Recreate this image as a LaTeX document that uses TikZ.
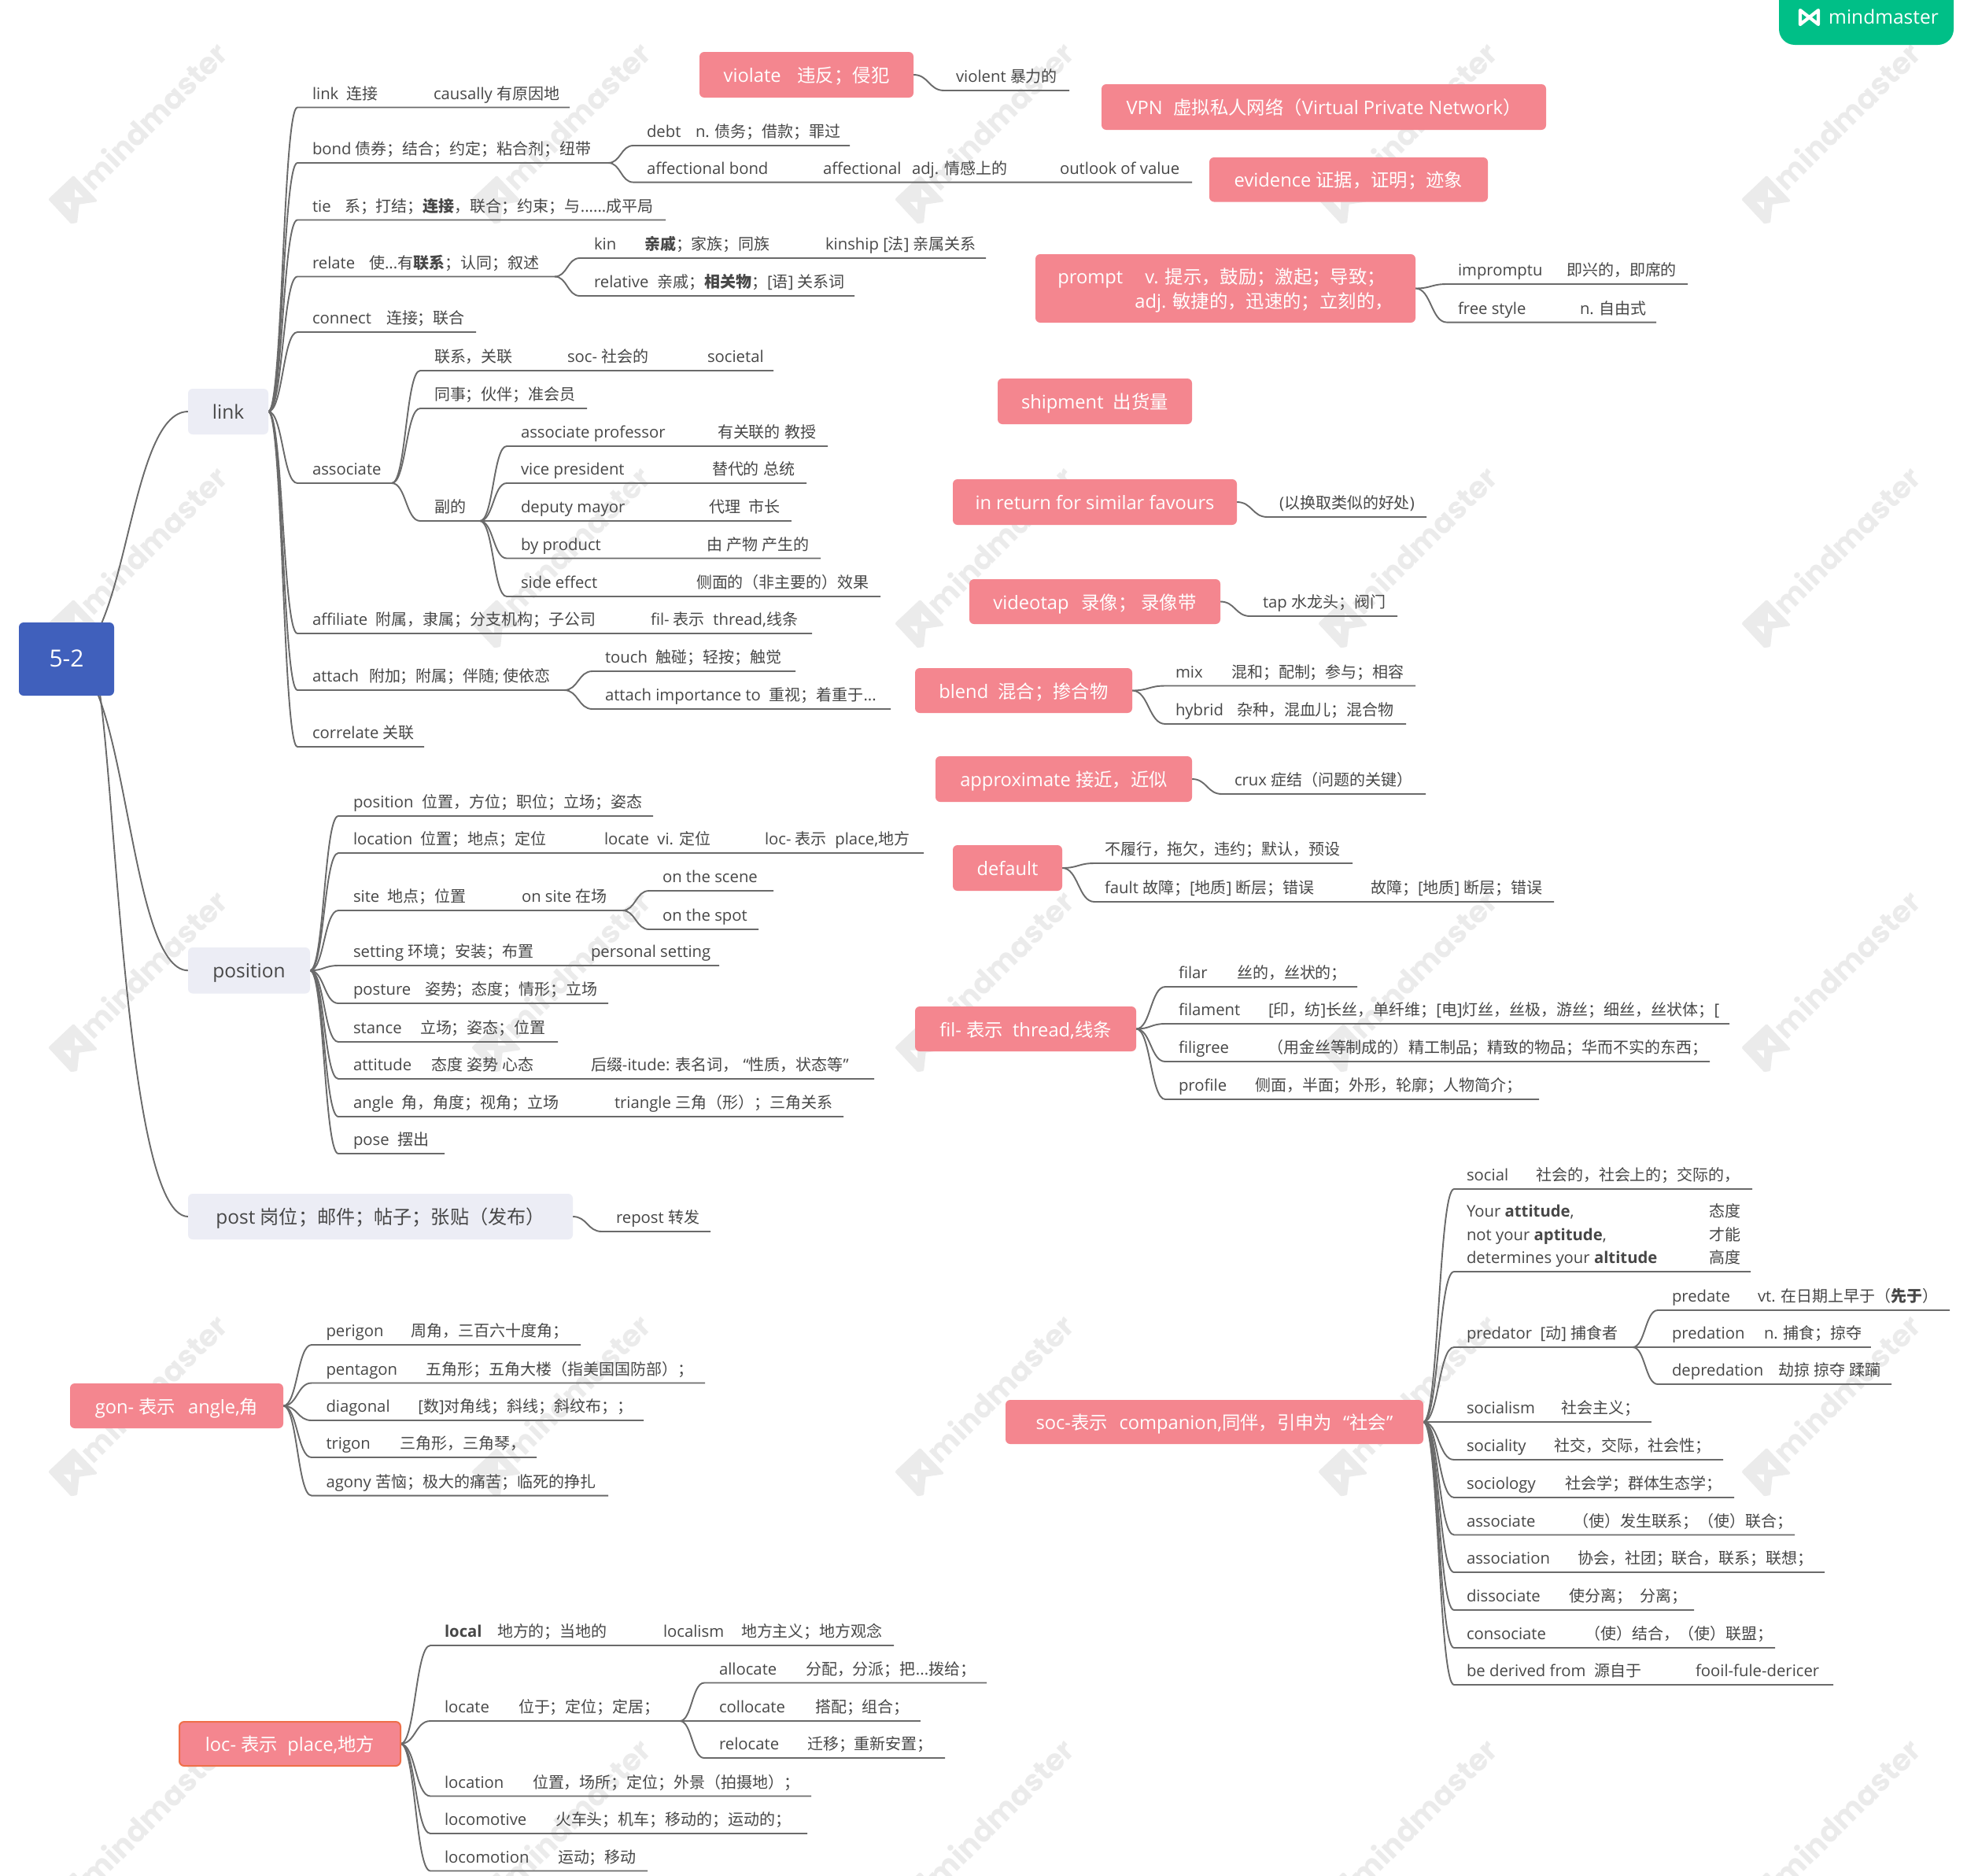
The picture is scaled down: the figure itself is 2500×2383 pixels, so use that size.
\documentclass[tikz,border=0pt]{standalone}
\usepackage{fontspec}
\usetikzlibrary{calc}
\setmainfont{Open Sans}
\newfontfamily\cjkfont[Scale=0.985]{Noto Sans CJK SC}
\newfontfamily\wmfont{Poppins}
% automatic switch to the CJK font
\chardef\cjkclass=7
\newcount\cjkc
\def\cjkrange#1#2{\cjkc=#1\relax\loop\XeTeXcharclass\cjkc=\cjkclass\relax\ifnum\cjkc<#2\relax\advance\cjkc by 1\relax\repeat}
\cjkrange{"3000}{"303F}
\cjkrange{"4E00}{"9FFF}
\cjkrange{"FF00}{"FFEF}
\XeTeXcharclass"2018=0 \XeTeXcharclass"2019=0 \XeTeXcharclass"201C=0 \XeTeXcharclass"201D=0
\XeTeXinterchartoks 0 \cjkclass={\begingroup\cjkfont}
\XeTeXinterchartoks 4095 \cjkclass={\begingroup\cjkfont}
\XeTeXinterchartoks \cjkclass 0={\endgroup}
\XeTeXinterchartoks \cjkclass 4095={\endgroup}
\XeTeXinterchartokenstate=1
\definecolor{pk}{HTML}{F4868F}
\definecolor{bl}{HTML}{4060BC}
\definecolor{lv}{HTML}{ECEDF5}
\definecolor{tx}{HTML}{474747}
\definecolor{ln}{HTML}{6A6A6A}
\definecolor{gr}{HTML}{00BF87}
\definecolor{wm}{HTML}{EBEBEB}
\pgfdeclarelayer{bgl}\pgfdeclarelayer{wml}\pgfdeclarelayer{conn}
\pgfsetlayers{bgl,wml,conn,main}
\tikzset{
  kidn/.style={anchor=south west,inner sep=0pt,outer sep=0pt,text=tx,font=\fontsize{20.3}{29.6}\selectfont},
  cn/.style={draw=ln,line width=1.9pt,line join=round},
  boxn/.style={inner sep=0pt,outer sep=0pt,rounded corners=6pt,align=left},
  pkbox/.style={boxn,fill=pk,text=white,font=\fontsize{23.7}{31}\selectfont},
  lvbox/.style={boxn,fill=lv,text=tx,font=\fontsize{24.5}{30}\selectfont},
  rootbox/.style={boxn,fill=bl,text=white,font=\fontsize{30}{36}\selectfont},
}
\newcommand\tb[2]{\makebox[#1pt][l]{#2}}
% \kid{name}{parent}{curve end x}{text x}{line y}{line end x}{text}
\newcommand\kid[7]{%
  \node[kidn] (#1) at (#3,#5) {\makebox[\dimexpr #6pt-#3pt\relax][l]{\hspace*{\dimexpr #4pt-#3pt\relax}\rule[-10.1pt]{0pt}{31pt}#7}};
  \coordinate (tA) at (#2 -| #1.south west);
  \coordinate (tB) at (#2 |- #1.south west);
  \begin{pgfonlayer}{conn}
  \draw[cn] (#2) .. controls ($(#2)!.5!(tA)$) and ($(tB)!.5!(#1.south west)$) .. (#1.south west) -- (#1.south east);
  \end{pgfonlayer}}
% \bx[style]{name}{x1}{y1}{x2}{y2}{text}
\newcommand\bx[7][pkbox]{%
  \node[#1,minimum width={(#5-#3)*1pt},minimum height={(#6-#4)*1pt}] (#2) at ({(#3+#5)/2},{(#4+#6)/2}) {\rule[-6pt]{0pt}{31pt}#7};}
\begin{document}
\begin{tikzpicture}[x=1pt,y=-1pt]
\useasboundingbox (0,0) rectangle (2500,2383);
\begin{pgfonlayer}{bgl}
\fill[white] (0,0) rectangle (2500,2383);
\end{pgfonlayer}
% watermarks
\begin{pgfonlayer}{wml}
\begin{scope}
\clip (0,0) rectangle (2500,2383);
\foreach \i in {0,...,4}{\foreach \j in {0,...,4}{
  \begin{scope}[shift={(92+538*\i,252+539*\j)}]
    \node[rotate=45,text=wm,inner sep=0pt,font=\fontsize{38}{38}\wmfont\bfseries] (wm\i\j) at (103,-105) {mindmaster};
    \fill[wm,draw=wm,line width=3pt,line join=round] (-28.7,1.3) -- (1.3,-27) -- (29.7,3) -- (7.3,6.3) -- (4.7,29.7) -- (-1.3,30.7) -- cycle;
    \fill[white] (3,-12) -- (13.7,-1.3) -- (3,-1.3) -- cycle;
    \fill[white] (-11.3,4.7) -- (-2,4.7) -- (-2,14.7) -- cycle;
  \end{scope}}}
\end{scope}
\end{pgfonlayer}
% badge
\begin{scope}
\clip (0,0) rectangle (2500,2383);
\fill[gr,rounded corners=20pt] (2261,-30) rectangle (2483,57);
\end{scope}
\draw[white,line width=4.2pt,line join=round,line cap=round] (2288,31) -- (2288,13) -- (2311,31) -- (2311,13) -- (2288,31);
\node[inner sep=0pt,text=white,anchor=base west,font=\fontsize{24.5}{26}\selectfont] (brand) at (2324,30) {mindmaster};
% main boxes
\bx[rootbox]{root}{24}{791}{145}{884}{5-2}
\bx[lvbox]{link}{239}{494}{341}{552}{link}
\bx[lvbox]{pos}{239}{1204}{394}{1262.5}{position}
\bx[lvbox]{post}{239}{1517}{728}{1575}{post 岗位；邮件；帖子；张贴（发布）}
\begin{pgfonlayer}{conn}
\draw[cn] (root.center) .. controls (162,838) and (162,523) .. (link.west);
\draw[cn] (root.center) .. controls (162,838) and (162,1233) .. (pos.west);
\draw[cn] ($(root.center)+(30,0)$) .. controls (145,838) and (150,1546) .. (post.west);
\end{pgfonlayer}
% link subtree
\kid{a1}{link.east}{378}{397}{136.5}{724}{\tb{154}{link~~连接}causally 有原因地}
\kid{bond}{link.east}{378}{397}{207}{773}{bond 债券；结合；约定；粘合剂；纽带}
\kid{debt}{bond.south east}{805}{822}{185}{1080}{\tb{62}{debt}n. 债务；借款；罪过}
\kid{affb}{bond.south east}{805}{822}{231.6}{1515}{\tb{224}{affectional bond}\tb{301}{\tb{113}{affectional}adj. 情感上的}outlook of value}
\kid{tie}{link.east}{378}{397}{279.5}{846}{\tb{41}{tie}系；打结；\textbf{连接}，联合；约束；与......成平局}
\kid{relate}{link.east}{378}{397}{351.5}{705}{\tb{72}{relate}使...有\textbf{联系}；认同；叙述}
\kid{kin}{relate.south east}{737}{755}{328}{1253}{\tb{64}{kin}\tb{230}{\textbf{亲戚}；家族；同族}kinship [法] 亲属关系}
\kid{relat}{relate.south east}{737}{755}{376}{1086}{relative~~亲戚；\textbf{相关物}；[语] 关系词}
\kid{conn}{link.east}{378}{397}{422}{605}{\tb{94}{connect}连接；联合}
\kid{assoc}{link.east}{378}{397}{614}{498}{associate}
\kid{lx}{assoc.south east}{534}{552}{471}{983}{\tb{169}{联系，关联}\tb{178}{soc- 社会的}societal}
\kid{ts}{assoc.south east}{534}{552}{519}{746}{同事；伙伴；准会员}
\kid{fu}{assoc.south east}{534}{552}{662}{610}{副的}
\kid{f1}{fu.south east}{644}{662}{567}{1052}{\tb{250}{associate professor}有关联的 教授}
\kid{f2}{fu.south east}{644}{662}{614}{1025}{\tb{243}{vice president}替代的 总统}
\kid{f3}{fu.south east}{644}{662}{662}{1006}{\tb{239}{deputy mayor}代理~~市长}
\kid{f4}{fu.south east}{644}{662}{709.5}{1043}{\tb{236}{by product}由 产物 产生的}
\kid{f5}{fu.south east}{644}{662}{758}{1119}{\tb{223}{side effect}侧面的（非主要的）效果}
\kid{affi}{link.east}{378}{397}{805}{1032}{\tb{430}{affiliate~~附属，隶属；分支机构；子公司}fil- 表示~~thread,线条}
\kid{attach}{link.east}{378}{397}{877}{717}{\tb{72}{attach}附加；附属；伴随; 使依恋}
\kid{touch}{attach.south east}{753}{769}{853}{1011}{touch~~触碰；轻按；触觉}
\kid{atti}{attach.south east}{753}{769}{901}{1132}{attach importance to~~重视；着重于...}
\kid{corr}{link.east}{378}{397}{949}{539}{correlate 关联}
% position subtree
\kid{p1}{pos.east}{430}{449}{1037}{830}{position~~位置，方位；职位；立场；姿态}
\kid{p2}{pos.east}{430}{449}{1084}{1174}{\tb{319}{location~~位置；地点；定位}\tb{204}{locate~~vi. 定位}loc- 表示~~place,地方}
\kid{site}{pos.east}{430}{449}{1157}{791}{\tb{214}{site~~地点；位置}on site 在场}
\kid{s1}{site.south east}{825}{842}{1132}{983}{on the scene}
\kid{s2}{site.south east}{825}{842}{1181}{964}{on the spot}
\kid{p4}{pos.east}{430}{449}{1227}{914}{\tb{302}{setting 环境；安装；布置}personal setting}
\kid{p5}{pos.east}{430}{449}{1275}{773}{\tb{91}{posture}姿势；态度；情形；立场}
\kid{p6}{pos.east}{430}{449}{1324}{709}{\tb{85}{stance}立场；姿态；位置}
\kid{p7}{pos.east}{430}{449}{1371}{1111}{\tb{302}{\tb{99}{attitude}态度 姿势 心态}后缀-itude: 表名词，\hspace{6pt}“性质，状态等”}
\kid{p8}{pos.east}{430}{449}{1419}{1072}{\tb{332}{angle~~角，角度；视角；立场}triangle 三角（形）；三角关系}
\kid{p9}{pos.east}{430}{449}{1466}{565}{pose~~摆出}
\kid{repost}{post.east}{765}{783}{1565}{903}{repost 转发}
% pink topics, upper right
\bx{violate}{889}{66}{1161}{124}{\tb{94}{violate}违反；侵犯}
\kid{violent}{violate.east}{1200}{1215}{115}{1359}{violent 暴力的}
\bx{vpn}{1400}{107}{1965}{165}{\tb{60}{VPN}虚拟私人网络（Virtual Private Network）}
\bx{evid}{1537}{200}{1891}{256.5}{evidence 证据，证明；迹象}
\bx{prompt}{1316}{323}{1799}{410}{\tb{111}{prompt}v. 提示，鼓励；激起；导致；\\\hspace*{98pt}adj. 敏捷的，迅速的；立刻的，}
\kid{impr}{prompt.east}{1839}{1853}{361}{2145}{\tb{138}{impromptu}即兴的，即席的}
\kid{free}{prompt.east}{1839}{1853}{409.6}{2105}{\tb{155}{free style}n. 自由式}
\bx{ship}{1268}{481}{1515}{539}{shipment~~出货量}
\bx{ret}{1211}{609}{1572}{667}{in return for similar favours}
\kid{hao}{ret.east}{1611}{1626}{657}{1813}{(以换取类似的好处)}
\bx{video}{1232}{736}{1551}{793}{\tb{112}{videotap}\tb{76}{录像；}录像带}
\kid{tap}{video.east}{1589}{1605}{783}{1776}{tap 水龙头；阀门}
\bx{blend}{1163}{849}{1439}{906}{blend~~混合；掺合物}
\kid{mix}{blend.east}{1481}{1494}{871.5}{1799}{\tb{71}{mix}混和；配制；参与；相容}
\kid{hyb}{blend.east}{1481}{1494}{920}{1787}{\tb{78}{hybrid}杂种，混血儿；混合物}
\bx{appr}{1189}{961}{1515}{1019}{approximate 接近，近似}
\kid{crux}{appr.east}{1553}{1569}{1009}{1812}{crux 症结（问题的关键）}
\bx{defa}{1211}{1074}{1350}{1132}{default}
\kid{d1}{defa.east}{1391}{1404}{1097}{1719}{不履行，拖欠，违约；默认，预设}
\kid{d2}{defa.east}{1391}{1404}{1146}{1975}{\tb{338}{fault 故障；[地质] 断层；错误}故障；[地质] 断层；错误}
\bx{fil}{1163}{1279}{1444}{1336}{fil- 表示~~thread,线条}
\kid{l1}{fil.east}{1481}{1498}{1254}{1725}{\tb{74}{filar}丝的，丝状的；}
\kid{l2}{fil.east}{1481}{1498}{1301}{2198}{\tb{114}{filament}[印，纺]长丝，单纤维；[电]灯丝，丝极，游丝；细丝，丝状体；[}
\kid{l3}{fil.east}{1481}{1498}{1349}{2173}{\tb{113}{filigree}（用金丝等制成的）精工制品；精致的物品；华而不实的东西；}
\kid{l4}{fil.east}{1481}{1498}{1397}{1956}{\tb{97}{profile}侧面，半面；外形，轮廓；人物简介；}
% soc
\bx{soc}{1278}{1779}{1809}{1835}{\tb{106}{soc-表示}companion,同伴，引申为\hspace{14pt}“社会”}
\kid{c1}{soc.east}{1848}{1864}{1511}{2227}{\tb{88}{social}社会的，社会上的；交际的，}
\kid{c2}{soc.east}{1848}{1864}{1616}{2225}{\parbox[b]{361pt}{\tb{308}{Your \textbf{attitude},}态度\par\tb{308}{not your \textbf{aptitude},}才能\par\tb{308}{determines your \textbf{altitude}}高度}}
\kid{pred}{soc.east}{1848}{1864}{1712}{2075}{predator~~[动] 捕食者}
\kid{e1}{pred.south east}{2107}{2125}{1665}{2478}{\tb{109}{predate}vt. 在日期上早于（\textbf{先于}）}
\kid{e2}{pred.south east}{2107}{2125}{1712}{2378}{\tb{117}{predation}n. 捕食；掠夺}
\kid{e3}{pred.south east}{2107}{2125}{1759}{2404}{\tb{135}{depredation}劫掠 掠夺 蹂躏}
\kid{c4}{soc.east}{1848}{1864}{1807}{2099}{\tb{120}{socialism}社会主义；}
\kid{c5}{soc.east}{1848}{1864}{1855}{2190}{\tb{111}{sociality}社交，交际，社会性；}
\kid{c6}{soc.east}{1848}{1864}{1903}{2204}{\tb{125}{sociology}社会学；群体生态学；}
\kid{c7}{soc.east}{1848}{1864}{1950.5}{2281}{\tb{135}{associate}（使）发生联系；（使）联合；}
\kid{c8}{soc.east}{1848}{1864}{1998}{2319}{\tb{141}{association}协会，社团；联合，联系；联想；}
\kid{c9}{soc.east}{1848}{1864}{2046}{2153}{\tb{130}{dissociate}使分离；~~分离；}
\kid{c10}{soc.east}{1848}{1864}{2094}{2256}{\tb{150}{consociate}（使）结合，（使）联盟；}
\kid{c11}{soc.east}{1848}{1864}{2141}{2330}{\tb{291}{be derived from~~源自于}fooil-fule-dericer}
% gon
\bx{gon}{89}{1758}{360}{1815}{gon- 表示\hspace{16pt}angle,角}
\kid{g1}{gon.east}{396}{414.5}{1709}{738}{\tb{108}{perigon}周角，三百六十度角；}
\kid{g2}{gon.east}{396}{414.5}{1757.5}{896}{\tb{127}{pentagon}五角形；五角大楼（指美国国防部）；}
\kid{g3}{gon.east}{396}{414.5}{1805}{818}{\tb{117}{diagonal}[数]对角线；斜线；斜纹布；；}
\kid{g4}{gon.east}{396}{414.5}{1852}{682}{\tb{94}{trigon}三角形，三角琴，}
\kid{g5}{gon.east}{396}{414.5}{1900.6}{773}{agony 苦恼；极大的痛苦；临死的挣扎}
% loc
\bx[pkbox,draw={rgb,255:red,239;green,111;blue,74},line width=2pt]{loc}{228}{2188}{509}{2244}{loc- 表示~~place,地方}
\kid{h1}{loc.east}{547}{565}{2091}{1136}{\tb{278}{\tb{67}{\textbf{local}}地方的；当地的}\tb{99}{localism}地方主义；地方观念}
\kid{locate}{loc.east}{547}{565}{2187}{864}{\tb{94}{locate}位于；定位；定居；}
\kid{i1}{locate.south east}{895}{914}{2138.5}{1254}{\tb{110}{allocate}分配，分派；把...拨给；}
\kid{i2}{locate.south east}{895}{914}{2187}{1170}{\tb{122}{collocate}搭配；组合；}
\kid{i3}{locate.south east}{895}{914}{2234}{1201}{\tb{112}{relocate}迁移；重新安置；}
\kid{h3}{loc.east}{547}{565}{2282.5}{1031}{\tb{112}{location}位置，场所；定位；外景（拍摄地）；}
\kid{h4}{loc.east}{547}{565}{2330}{1026}{\tb{141}{locomotive}火车头；机车；移动的；运动的；}
\kid{h5}{loc.east}{547}{565}{2377.5}{823}{\tb{144}{locomotion}运动；移动}
\end{tikzpicture}
\end{document}
